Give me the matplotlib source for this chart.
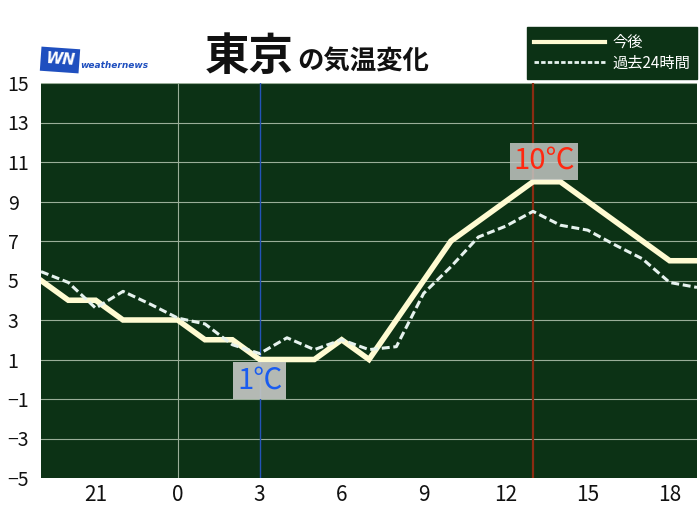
import matplotlib
matplotlib.use("Agg")
import matplotlib.pyplot as plt
from matplotlib.lines import Line2D

plt.rcParams['font.family'] = ['Noto Sans CJK JP', 'DejaVu Sans']

# 時刻 (19 = 前日19時, 24 = 0時, 43 = 当日19時)
horas = list(range(19, 44))
kongo = [5, 4, 4, 3, 3, 3, 2, 2, 1, 1, 1, 2, 1, 3, 5, 7, 8, 9, 10, 10, 9, 8, 7, 6, 6]
kako24 = [5.45, 4.9, 3.6, 4.45, 3.8, 3.1, 2.8, 1.75, 1.3, 2.1, 1.5, 2.0, 1.5,
          1.65, 4.35, 5.7, 7.2, 7.75, 8.5, 7.8, 7.55, 6.8, 6.1, 4.9, 4.65]

xticks = [21, 24, 27, 30, 33, 36, 39, 42]
xlabels = ["21", "0", "3", "6", "9", "12", "15", "18"]
yticks = list(range(-5, 16, 2))

hora_min, temp_min = 27, 1
hora_max, temp_max = 37, 10

verde = "#0c3215"
grade = "#9aae98"

fig = plt.figure(figsize=(7, 5.25), dpi=100)
ax = fig.add_axes([41 / 700, 47 / 525, 656 / 700, 395 / 525])
ax.set_facecolor(verde)
for s in ax.spines.values():
    s.set_visible(False)

ax.set_xlim(19, 43)
ax.set_ylim(-5, 15)

for v in yticks[1:]:
    ax.axhline(v, color=grade, lw=0.8, zorder=1)
ax.axvline(24, color=grade, lw=0.8, zorder=1)
ax.axvline(hora_min, color="#2453b8", lw=1.0, zorder=2)
ax.axvline(hora_max, color="#8a2c12", lw=1.6, zorder=2)

ax.plot(horas, kongo, color="#fffbd2", lw=4.0, zorder=3, solid_joinstyle="miter")
ax.plot(horas, kako24, color="#e6f2ee", lw=2.2, dashes=(2.6, 1.2), zorder=4)

ax.text(hora_min, -0.05, "1℃", color="#1a5cf0", fontsize=21, ha="center", va="center",
        zorder=6, bbox=dict(boxstyle="square,pad=0.12", facecolor="#c3c6c3", edgecolor="none", alpha=0.92))
ax.text(hora_max + 0.4, 11.05, "10℃", color="#ff2810", fontsize=21, ha="center", va="center",
        zorder=6, bbox=dict(boxstyle="square,pad=0.12", facecolor="#c3c6c3", edgecolor="none", alpha=0.85))

ax.set_xticks(xticks)
ax.set_xticklabels(xlabels)
ax.set_yticks(yticks)
ax.tick_params(axis="both", length=0, labelsize=14, colors="#111111")
ax.tick_params(axis="x", pad=4, labelsize=15)
ax.tick_params(axis="y", pad=24)
for lbl in ax.get_yticklabels():
    lbl.set_ha("left")

# título
fig.text(205 / 700, 1 - 70 / 525, "東京", fontsize=32, fontweight="bold", color="#111111",
         ha="left", va="baseline")
fig.text(297 / 700, 1 - 70 / 525, "の気温変化", fontsize=19, fontweight="bold", color="#111111",
         ha="left", va="baseline")

# logo
fig.text(60 / 700, 1 - 60 / 525, "WN", fontsize=11, fontweight="bold", style="italic",
         color="white", ha="center", va="center", family="DejaVu Sans", rotation=-4,
         bbox=dict(boxstyle="square,pad=0.3", facecolor="#1f4fbf", edgecolor="none"))
fig.text(80 / 700, 1 - 65 / 525, "weathernews", fontsize=6.5, fontweight="bold", style="italic",
         color="#1f4fbf", ha="left", va="center", family="DejaVu Sans")

# legenda
handles = [Line2D([], [], color="#fffbd2", lw=3.0),
           Line2D([], [], color="#e6f2ee", lw=2.0, dashes=(1.6, 0.8))]
leg = ax.legend(handles, ["今後", "過去24時間"], loc="upper right",
                bbox_to_anchor=(697 / 700, 1 - 27 / 525), bbox_transform=fig.transFigure,
                fontsize=11, handlelength=4.6, handletextpad=0.5, borderpad=0.45,
                labelspacing=0.25, fancybox=False, framealpha=1, borderaxespad=0)
leg.get_frame().set_facecolor(verde)
leg.get_frame().set_edgecolor(verde)
for t in leg.get_texts():
    t.set_color("white")

fig.savefig("out.png", dpi=100)
